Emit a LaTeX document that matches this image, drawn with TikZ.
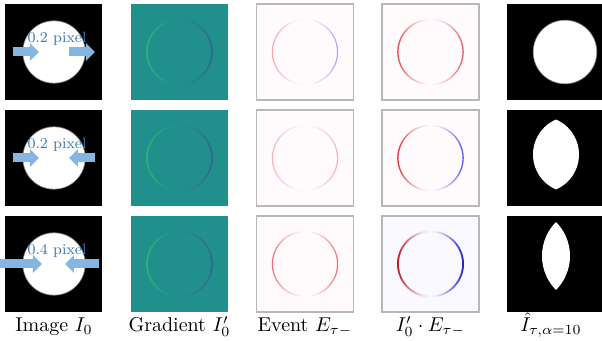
\documentclass[tikz,border=0pt]{standalone}
\usepackage{amsmath}
\usetikzlibrary{arrows.meta,positioning,calc}
\definecolor{shiftblue}{HTML}{85B6E2}
\definecolor{shifttext}{HTML}{3B78AE}
\definecolor{gradbg}{HTML}{21908C}
\definecolor{gradlo}{HTML}{2FB47C}
\definecolor{gradhi}{HTML}{33638D}
\definecolor{evbg}{HTML}{FFFBFD}
\definecolor{evbgb}{HTML}{F9F9FF}
\definecolor{frame}{HTML}{B8B8B8}
\definecolor{evred}{HTML}{E0242C}
\definecolor{evblue}{HTML}{2A2AE6}
\definecolor{edge}{HTML}{7A7A7A}
\tikzset{
  panel/.style={minimum width=48.5pt,minimum height=48pt,inner sep=0pt,outer sep=0pt},
  imgpanel/.style={panel,fill=black},
  gradpanel/.style={panel,fill=gradbg},
  evpanel/.style={panel,fill=evbg,draw=frame,line width=0.6pt},
  shiftarrow/.style={line width=4.5pt,draw=shiftblue,-{Triangle[length=4.5pt,width=8.5pt]}},
  shiftlbl/.style={text=shifttext,font=\fontsize{7.5}{9}\selectfont,inner sep=0pt},
  caption/.style={font=\normalsize,inner sep=0pt}
}
% one half of a ring, fading towards top and bottom
\newcommand{\ringhalf}[6]{%
  \foreach \a in {0,5,...,175}{
    \pgfmathsetmacro\b{#2+\a}
    \pgfmathsetmacro\e{#2+\a+5.5}
    \pgfmathtruncatemacro\s{#4*sin(\a+2.5)^1.4}
    \draw[line width=#6,draw=#3!\s!#5] (#1) ++(\b:16.3pt) arc[start angle=\b,end angle=\e,radius=16.3pt];
  }}
\newcommand{\evring}[7]{\ringhalf{#1}{90}{#2}{#3}{#6}{#7}\ringhalf{#1}{-90}{#4}{#5}{#6}{#7}}

\begin{document}
\begin{tikzpicture}[x=0.5pt,y=0.5pt,node distance=5pt and 14.25pt]
  \clip (0,0) rectangle (602,341);
  % panels
  \node[imgpanel] (img1) at (54,289) {};
  \node[imgpanel, below=of img1] (img2) {};
  \node[imgpanel, below=of img2] (img3) {};
  \node[gradpanel, right=of img1] (grad1) {};
  \node[gradpanel, right=of img2] (grad2) {};
  \node[gradpanel, right=of img3] (grad3) {};
  \node[evpanel, right=of grad1] (ev1) {};
  \node[evpanel, right=of grad2] (ev2) {};
  \node[evpanel, right=of grad3] (ev3) {};
  \node[evpanel, right=of ev1] (prod1) {};
  \node[evpanel, right=of ev2] (prod2) {};
  \node[evpanel, right=of ev3, fill=evbgb] (prod3) {};
  \node[imgpanel, right=of prod1] (rec1) {};
  \node[imgpanel, right=of prod2] (rec2) {};
  \node[imgpanel, right=of prod3] (rec3) {};

  % input discs
  \foreach \n in {img1,img2,img3}{
    \fill[edge] (\n) circle[radius=15.8pt];
    \fill[white] (\n) circle[radius=15.4pt];
  }
  % gradient and event rings
  \foreach \n in {grad1,grad2,grad3}{\evring{\n}{gradlo}{85}{gradhi}{85}{gradbg}{0.9pt}}
  \evring{ev1}{evred}{40}{evblue}{40}{evbg}{0.6pt}
  \evring{ev2}{evred}{35}{evred}{35}{evbg}{0.6pt}
  \evring{ev3}{evred}{65}{evred}{65}{evbg}{0.6pt}
  \evring{prod1}{evred}{80}{evred}{70}{evbg}{0.7pt}
  \evring{prod2}{evred}{90}{evblue}{75}{evbg}{0.7pt}
  \evring{prod3}{evred!85!black}{100}{evblue!85!black}{100}{evbgb}{0.9pt}

  % reconstructions
  \fill[edge] ([xshift=4.5pt]rec1.center) circle[radius=16.1pt];
  \fill[white] ([xshift=4.5pt]rec1.center) circle[radius=15.7pt];
  \begin{scope}
    \clip ([xshift=-7.55pt,yshift=1.75pt]rec2.center) circle[radius=19.05pt];
    \fill[white] ([xshift=7.55pt,yshift=1.75pt]rec2.center) circle[radius=19.05pt];
  \end{scope}
  \begin{scope}
    \clip ([xshift=-17.15pt,yshift=4pt]rec3.center) circle[radius=24.15pt];
    \fill[white] ([xshift=17.15pt,yshift=4pt]rec3.center) circle[radius=24.15pt];
  \end{scope}

  % shifts
  \draw[shiftarrow] ([xshift=-20.5pt]img1.center) -- ([xshift=-7.5pt]img1.center);
  \draw[shiftarrow] ([xshift=7.5pt]img1.center) -- ([xshift=20.5pt]img1.center);
  \draw[shiftarrow] ([xshift=-20.5pt]img2.center) -- ([xshift=-7.5pt]img2.center);
  \draw[shiftarrow] ([xshift=20.5pt]img2.center) -- ([xshift=7.5pt]img2.center);
  \draw[shiftarrow] ([xshift=-27pt]img3.center) -- ([xshift=-6pt]img3.center);
  \draw[shiftarrow] ([xshift=22.5pt]img3.center) -- ([xshift=5.5pt]img3.center);
  \node[shiftlbl] (d1) at ([xshift=1.5pt,yshift=6.5pt]img1.center) {0.2 pixel};
  \node[shiftlbl] (d2) at ([xshift=1.5pt,yshift=6.5pt]img2.center) {0.2 pixel};
  \node[shiftlbl] (d3) at ([xshift=1.5pt,yshift=6.5pt]img3.center) {0.4 pixel};

  % captions
  \node[caption, below=10pt of img3, anchor=base] (capimg) {Image $I_0$};
  \node[caption, below=10pt of grad3, anchor=base] (capgrad) {Gradient $I_0'$};
  \node[caption, below=10pt of ev3, anchor=base] (capev) {Event $E_{\tau-}$};
  \node[caption, below=10pt of prod3, anchor=base] (capprod) {$I_0'\cdot E_{\tau-}$};
  \node[caption, below=10pt of rec3, anchor=base, xshift=-2.5pt] (caprec) {$\hat{I}_{\tau,\alpha=10}$};
\end{tikzpicture}
\end{document}
